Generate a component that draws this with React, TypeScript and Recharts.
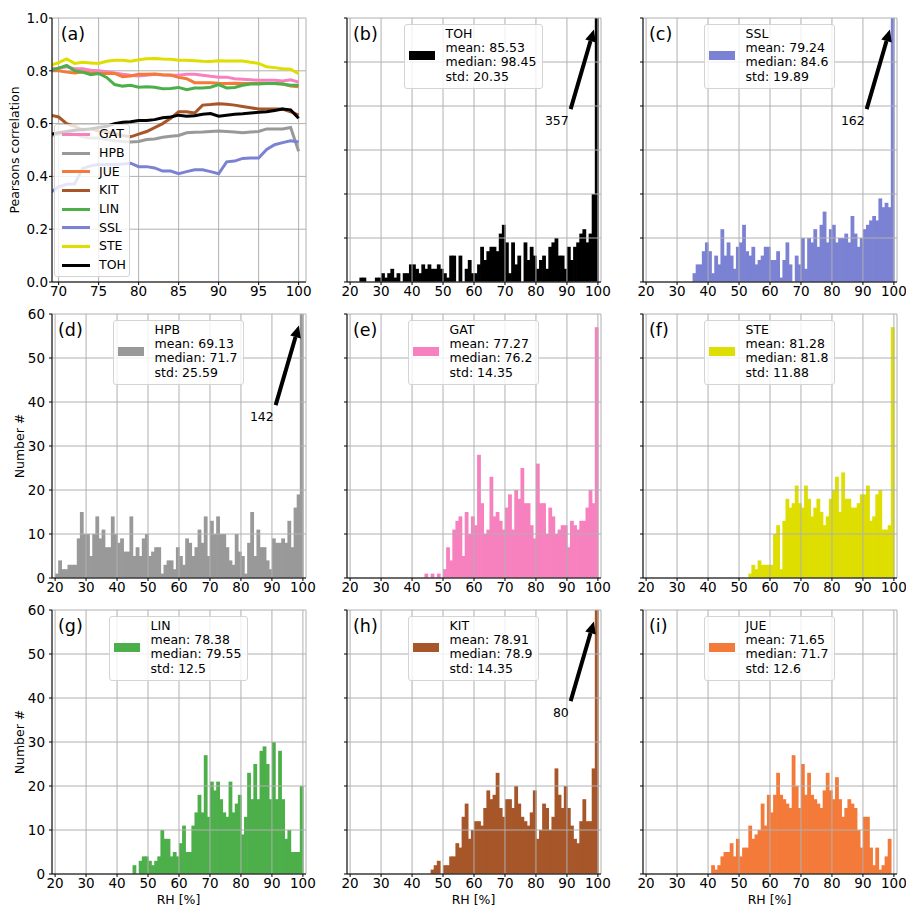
import React from "react";
import {
  BarChart,
  Bar,
  LineChart,
  Line,
  XAxis,
  YAxis,
  CartesianGrid,
  ReferenceLine,
  ReferenceDot,
} from "recharts";

const FONT = "'DejaVu Sans', sans-serif";

// ---- panel (a): correlation vs RH threshold ----
const RH_THRESHOLDS = [
  69, 70, 71, 72, 73, 74, 75, 76, 77, 78, 79, 80, 81, 82, 83, 84, 85, 86, 87,
  88, 89, 90, 91, 92, 93, 94, 95, 96, 97, 98, 99, 100,
];
const CORR_GAT = [0.808, 0.81, 0.815, 0.808, 0.808, 0.802, 0.8, 0.796, 0.792, 0.787, 0.783, 0.78, 0.783, 0.787, 0.784, 0.783, 0.783, 0.787, 0.787, 0.783, 0.779, 0.776, 0.776, 0.77, 0.768, 0.766, 0.764, 0.764, 0.764, 0.761, 0.766, 0.757];
const CORR_HPB = [0.555, 0.56, 0.565, 0.56, 0.55, 0.545, 0.545, 0.54, 0.535, 0.532, 0.53, 0.532, 0.54, 0.542, 0.548, 0.552, 0.555, 0.565, 0.567, 0.568, 0.57, 0.572, 0.57, 0.568, 0.565, 0.568, 0.57, 0.58, 0.58, 0.58, 0.585, 0.495];
const CORR_JUE = [0.8, 0.8, 0.795, 0.792, 0.795, 0.792, 0.79, 0.79, 0.79, 0.778, 0.78, 0.787, 0.787, 0.788, 0.785, 0.784, 0.775, 0.77, 0.755, 0.755, 0.755, 0.753, 0.752, 0.753, 0.752, 0.752, 0.752, 0.752, 0.752, 0.75, 0.742, 0.74];
const CORR_KIT = [0.632, 0.625, 0.6, 0.59, 0.575, 0.58, 0.572, 0.568, 0.562, 0.555, 0.55, 0.56, 0.57, 0.585, 0.6, 0.62, 0.645, 0.645, 0.64, 0.67, 0.672, 0.675, 0.673, 0.67, 0.665, 0.66, 0.655, 0.655, 0.655, 0.655, 0.645, 0.632];
const CORR_LIN = [0.8, 0.81, 0.82, 0.8, 0.795, 0.785, 0.79, 0.775, 0.748, 0.742, 0.745, 0.738, 0.74, 0.738, 0.732, 0.733, 0.737, 0.728, 0.735, 0.735, 0.738, 0.748, 0.735, 0.737, 0.745, 0.75, 0.75, 0.752, 0.752, 0.75, 0.745, 0.745];
const CORR_SSL = [0.34, 0.36, 0.37, 0.372, 0.43, 0.44, 0.445, 0.445, 0.445, 0.447, 0.45, 0.437, 0.437, 0.432, 0.42, 0.42, 0.41, 0.418, 0.425, 0.425, 0.418, 0.41, 0.455, 0.458, 0.468, 0.47, 0.47, 0.502, 0.52, 0.528, 0.535, 0.53];
const CORR_STE = [0.821, 0.831, 0.845, 0.828, 0.832, 0.83, 0.828, 0.836, 0.84, 0.84, 0.836, 0.842, 0.846, 0.847, 0.845, 0.844, 0.84, 0.84, 0.838, 0.836, 0.835, 0.838, 0.837, 0.837, 0.837, 0.832, 0.828, 0.815, 0.812, 0.808, 0.806, 0.789];
const CORR_TOH = [0.56, 0.565, 0.57, 0.575, 0.578, 0.58, 0.585, 0.59, 0.6, 0.605, 0.607, 0.612, 0.612, 0.615, 0.622, 0.625, 0.632, 0.628, 0.63, 0.635, 0.638, 0.628, 0.632, 0.635, 0.637, 0.64, 0.643, 0.645, 0.65, 0.655, 0.652, 0.62];

const STATIONS = ["GAT", "HPB", "JUE", "KIT", "LIN", "SSL", "STE", "TOH"];
const CORR_BY_STATION: Record<string, number[]> = {
  GAT: CORR_GAT,
  HPB: CORR_HPB,
  JUE: CORR_JUE,
  KIT: CORR_KIT,
  LIN: CORR_LIN,
  SSL: CORR_SSL,
  STE: CORR_STE,
  TOH: CORR_TOH,
};
const COLORS: Record<string, string> = {
  GAT: "#f781bf",
  HPB: "#999999",
  JUE: "#f47a3a",
  KIT: "#a65628",
  LIN: "#4daf4a",
  SSL: "#7b82d4",
  STE: "#dede00",
  TOH: "#000000",
};

const CORR_TICKS_X = [70, 75, 80, 85, 90, 95, 100];
const CORR_TICKS_Y = [0, 0.2, 0.4, 0.6, 0.8, 1.0];

// ---- histograms: counts per 1 % RH bin, bins 20..99 ----
const BIN_START = 20;
const COUNTS_TOH = [
  0, 0, 0, 1, 1, 0, 0, 0, 1, 1,
  2, 1, 2, 3, 1, 2, 0, 2, 2, 4,
  4, 3, 2, 4, 3, 4, 3, 3, 4, 3,
  2, 1, 6, 6, 0, 6, 0, 3, 5, 2,
  2, 4, 8, 5, 7, 8, 8, 7, 11, 13,
  9, 2, 9, 4, 6, 0, 9, 5, 8, 6,
  3, 5, 6, 3, 8, 9, 10, 6, 6, 3,
  8, 5, 8, 9, 11, 12, 9, 11, 20, 357,
];
const COUNTS_SSL = [
  0, 0, 0, 0, 0, 0, 0, 0, 0, 0,
  0, 0, 0, 0, 0, 2, 4, 4, 7, 9,
  7, 2, 6, 4, 12, 6, 9, 6, 3, 8,
  9, 13, 7, 6, 8, 4, 5, 6, 8, 8,
  5, 5, 7, 1, 5, 9, 4, 0, 6, 4,
  10, 3, 10, 9, 12, 8, 13, 16, 9, 12,
  13, 9, 10, 10, 11, 9, 15, 11, 8, 10,
  12, 13, 14, 15, 14, 19, 17, 18, 17, 162,
];
const COUNTS_HPB = [
  1, 4, 2, 2, 3, 3, 3, 9, 15, 10,
  10, 5, 10, 14, 9, 11, 7, 7, 14, 10,
  8, 9, 6, 6, 14, 5, 7, 5, 9, 10,
  5, 6, 7, 7, 1, 3, 4, 4, 2, 7,
  5, 3, 9, 8, 5, 7, 11, 8, 14, 5,
  13, 10, 14, 10, 10, 7, 4, 3, 10, 6,
  5, 1, 8, 15, 5, 11, 7, 7, 4, 2,
  9, 8, 8, 9, 8, 13, 7, 16, 19, 142,
];
const COUNTS_GAT = [
  0, 0, 0, 0, 0, 0, 0, 0, 0, 0,
  0, 0, 0, 0, 0, 0, 0, 0, 0, 0,
  0, 0, 0, 0, 1, 0, 1, 0, 1, 0,
  2, 7, 4, 11, 13, 14, 5, 15, 10, 14,
  12, 28, 17, 10, 11, 23, 14, 15, 13, 11,
  16, 19, 11, 20, 18, 25, 17, 17, 12, 9,
  26, 17, 17, 10, 16, 14, 10, 11, 12, 12,
  7, 13, 12, 11, 13, 13, 16, 20, 17, 57,
];
const COUNTS_STE = [
  0, 0, 0, 0, 0, 0, 0, 0, 0, 0,
  0, 0, 0, 0, 0, 0, 0, 0, 0, 0,
  0, 0, 0, 0, 0, 0, 0, 0, 0, 0,
  0, 0, 0, 1, 3, 2, 4, 3, 3, 3,
  3, 10, 12, 2, 13, 18, 16, 17, 21, 17,
  16, 21, 18, 14, 16, 18, 15, 12, 14, 18,
  20, 23, 15, 24, 18, 18, 16, 16, 17, 19,
  19, 21, 13, 14, 19, 20, 11, 11, 12, 57,
];
const COUNTS_LIN = [
  0, 0, 0, 0, 0, 0, 0, 0, 0, 0,
  0, 0, 0, 0, 0, 0, 0, 0, 0, 0,
  0, 0, 0, 0, 0, 2, 0, 3, 4, 4,
  3, 2, 3, 4, 10, 8, 8, 4, 5, 4,
  7, 11, 5, 5, 11, 14, 18, 14, 27, 13,
  21, 19, 21, 17, 14, 13, 21, 14, 16, 18,
  9, 13, 23, 17, 25, 17, 28, 29, 25, 17,
  30, 17, 28, 17, 8, 10, 5, 5, 5, 20,
];
const COUNTS_KIT = [
  0, 0, 0, 0, 0, 0, 0, 0, 0, 0,
  0, 0, 0, 0, 0, 0, 0, 0, 0, 0,
  0, 0, 0, 0, 0, 0, 1, 2, 3, 0,
  2, 2, 4, 4, 7, 6, 13, 16, 8, 10,
  12, 12, 11, 15, 19, 17, 18, 23, 15, 13,
  17, 17, 15, 20, 16, 13, 12, 11, 14, 19,
  8, 10, 16, 15, 10, 13, 24, 18, 15, 20,
  15, 11, 8, 7, 12, 17, 12, 12, 24, 80,
];
const COUNTS_JUE = [
  0, 0, 0, 0, 0, 0, 0, 0, 0, 0,
  0, 0, 0, 0, 0, 0, 0, 0, 0, 0,
  0, 2, 1, 2, 4, 5, 5, 7, 4, 8,
  4, 6, 6, 11, 8, 9, 10, 16, 11, 18,
  14, 18, 23, 18, 17, 16, 15, 27, 20, 15,
  25, 18, 23, 18, 17, 16, 15, 19, 23, 19,
  17, 22, 17, 13, 15, 17, 16, 15, 10, 6,
  13, 13, 6, 2, 6, 1, 2, 4, 8, 0,
];

const HIST_TICKS_X = [20, 30, 40, 50, 60, 70, 80, 90, 100];
const HIST_TICKS_Y = [0, 10, 20, 30, 40, 50, 60];

const HISTS = [
  { letter: "(b)", station: "TOH", counts: COUNTS_TOH, mean: "85.53", median: "98.45", std: "20.35", peak: "357", row: 0, col: 1 },
  { letter: "(c)", station: "SSL", counts: COUNTS_SSL, mean: "79.24", median: "84.6", std: "19.89", peak: "162", row: 0, col: 2 },
  { letter: "(d)", station: "HPB", counts: COUNTS_HPB, mean: "69.13", median: "71.7", std: "25.59", peak: "142", row: 1, col: 0 },
  { letter: "(e)", station: "GAT", counts: COUNTS_GAT, mean: "77.27", median: "76.2", std: "14.35", peak: "", row: 1, col: 1 },
  { letter: "(f)", station: "STE", counts: COUNTS_STE, mean: "81.28", median: "81.8", std: "11.88", peak: "", row: 1, col: 2 },
  { letter: "(g)", station: "LIN", counts: COUNTS_LIN, mean: "78.38", median: "79.55", std: "12.5", peak: "", row: 2, col: 0 },
  { letter: "(h)", station: "KIT", counts: COUNTS_KIT, mean: "78.91", median: "78.9", std: "14.35", peak: "80", row: 2, col: 1 },
  { letter: "(i)", station: "JUE", counts: COUNTS_JUE, mean: "71.65", median: "71.7", std: "12.6", peak: "", row: 2, col: 2 },
];

// layout
const COL_LEFT = [51.5, 346.5, 642.5];
const ROW_TOP = [17.5, 313.5, 609.5];
const PLOT_W = 254;
const PLOT_H = 264;
const Y_AXIS_W = 50;
const X_AXIS_H = 30;
const M_TOP = 10;
const M_RIGHT = 10;
const CHART_W = Y_AXIS_W + PLOT_W + M_RIGHT;
const CHART_H = M_TOP + PLOT_H + X_AXIS_H;

const tickStyle = { fill: "#000", fontSize: 13.5, fontFamily: FONT };
const axisLine = { stroke: "#000", strokeWidth: 1 };

// bins touch each other: widen each rect a little so no seams show
function BinRect(props: any) {
  const { x, y, width, height, fill } = props;
  if (!height || height <= 0 || !width) return null;
  return <rect x={x} y={y} width={width + 0.8} height={height} fill={fill} />;
}

function ArrowShape(props: any) {
  const { x1, y1, x2, y2 } = props;
  const dx = x2 - x1;
  const dy = y2 - y1;
  const len = Math.hypot(dx, dy) || 1;
  const ux = dx / len;
  const uy = dy / len;
  const head = 12;
  const half = 5.5;
  const bx = x2 - ux * head;
  const by = y2 - uy * head;
  return (
    <g>
      <line x1={x1} y1={y1} x2={bx} y2={by} stroke="#000" strokeWidth={4} />
      <polygon
        points={`${x2},${y2} ${bx - uy * half},${by + ux * half} ${bx + uy * half},${by - ux * half}`}
        fill="#000"
      />
    </g>
  );
}

function PanelLetter({ text, left, top }: { text: string; left: number; top: number }) {
  return (
    <div
      style={{
        position: "absolute",
        left,
        top,
        fontSize: 17.5,
        lineHeight: "17.5px",
        fontFamily: FONT,
        color: "#000",
        whiteSpace: "nowrap",
      }}
    >
      {text}
    </div>
  );
}

function RotatedLabel({ text, cx, cy }: { text: string; cx: number; cy: number }) {
  return (
    <div
      style={{
        position: "absolute",
        left: cx,
        top: cy,
        transform: "translate(-50%, -50%) rotate(-90deg)",
        fontSize: 12.5,
        lineHeight: "14px",
        fontFamily: FONT,
        whiteSpace: "nowrap",
        color: "#000",
      }}
    >
      {text}
    </div>
  );
}

function CorrelationPanel() {
  const data = RH_THRESHOLDS.map((x, i) => {
    const row: Record<string, number> = { x };
    STATIONS.forEach((s) => (row[s] = CORR_BY_STATION[s][i]));
    return row;
  });
  const left = COL_LEFT[0];
  const top = ROW_TOP[0];
  return (
    <>
      <div style={{ position: "absolute", left: left - Y_AXIS_W, top: top - M_TOP }}>
        <LineChart
          width={CHART_W}
          height={CHART_H}
          data={data}
          margin={{ top: M_TOP, right: M_RIGHT, bottom: 0, left: 0 }}
        >
          <CartesianGrid stroke="#b0b0b0" strokeWidth={1} />
          <XAxis
            dataKey="x"
            type="number"
            domain={[69.17, 100.92]}
            allowDataOverflow
            ticks={CORR_TICKS_X}
            interval={0}
            height={X_AXIS_H}
            tick={tickStyle}
            tickSize={3}
            tickMargin={1}
            axisLine={axisLine}
            tickLine={axisLine}
          />
          <XAxis xAxisId="top" orientation="top" type="number" domain={[0, 1]} height={0} tick={false} tickLine={false} axisLine={axisLine} />
          <YAxis
            type="number"
            domain={[0, 1]}
            allowDataOverflow
            ticks={CORR_TICKS_Y}
            interval={0}
            width={Y_AXIS_W}
            tick={tickStyle}
            tickFormatter={(v: number) => v.toFixed(1)}
            tickSize={3}
            tickMargin={1}
            axisLine={axisLine}
            tickLine={axisLine}
          />
          <YAxis yAxisId="right" orientation="right" type="number" domain={[0, 1]} width={0} tick={false} tickLine={false} axisLine={axisLine} />
          {STATIONS.map((s) => (
            <Line
              key={s}
              dataKey={s}
              type="linear"
              stroke={COLORS[s]}
              strokeWidth={3}
              dot={false}
              isAnimationActive={false}
            />
          ))}
        </LineChart>
      </div>
      {/* legend, lower left */}
      <div
        style={{
          position: "absolute",
          left: 54,
          top: 124,
          width: 76,
          height: 153,
          boxSizing: "border-box",
          border: "1px solid #d4d4d4",
          borderRadius: 3,
          background: "rgba(255,255,255,0.8)",
          fontFamily: FONT,
          fontSize: 12.5,
        }}
      >
        {STATIONS.map((s) => (
          <div key={s} style={{ height: 18.7, display: "flex", alignItems: "center" }}>
            <div style={{ marginLeft: 7, width: 28, height: 3, background: COLORS[s] }} />
            <div style={{ marginLeft: 9, lineHeight: "14px" }}>{s}</div>
          </div>
        ))}
      </div>
      <PanelLetter text="(a)" left={left + 9.3} top={top + 8} />
      <RotatedLabel text="Pearsons correlation" cx={15} cy={top + PLOT_H / 2} />
    </>
  );
}

function HistPanel({ spec }: { spec: (typeof HISTS)[number] }) {
  const color = COLORS[spec.station];
  const data = spec.counts.map((n, i) => ({ x: BIN_START + i + 0.5, n }));
  const left = COL_LEFT[spec.col];
  const top = ROW_TOP[spec.row];
  const showY = spec.col === 0;
  return (
    <>
      <div style={{ position: "absolute", left: left - Y_AXIS_W, top: top - M_TOP }}>
        <BarChart
          width={CHART_W}
          height={CHART_H}
          data={data}
          barCategoryGap={0}
          barGap={0}
          margin={{ top: M_TOP, right: M_RIGHT, bottom: 0, left: 0 }}
        >
          <XAxis
            dataKey="x"
            type="number"
            domain={[19, 101]}
            allowDataOverflow
            ticks={HIST_TICKS_X}
            interval={0}
            height={X_AXIS_H}
            tick={tickStyle}
            tickSize={3}
            tickMargin={1}
            axisLine={axisLine}
            tickLine={axisLine}
          />
          <XAxis xAxisId="top" orientation="top" type="number" domain={[0, 1]} height={0} tick={false} tickLine={false} axisLine={axisLine} />
          <YAxis
            type="number"
            domain={[0, 60]}
            allowDataOverflow
            ticks={HIST_TICKS_Y}
            interval={0}
            width={Y_AXIS_W}
            tick={tickStyle}
            tickFormatter={(v: number) => (showY ? String(v) : "")}
            tickSize={3}
            tickMargin={4}
            axisLine={axisLine}
            tickLine={axisLine}
          />
          <YAxis yAxisId="right" orientation="right" type="number" domain={[0, 1]} width={0} tick={false} tickLine={false} axisLine={axisLine} />
          <Bar
            dataKey="n"
            fill={color}
            shape={BinRect}
            isAnimationActive={false}
          />
          <CartesianGrid stroke="#b0b0b0" strokeWidth={1} zIndex={350} />
          {spec.peak && (
            <ReferenceLine
              segment={[
                { x: 91.2, y: 39.3 },
                { x: 98.7, y: 57.4 },
              ]}
              shape={ArrowShape}
            />
          )}
          {spec.peak && (
            <ReferenceDot
              x={90.6}
              y={36.6}
              r={0}
              fill="none"
              stroke="none"
              label={{
                value: spec.peak,
                position: "left",
                offset: 0,
                fill: "#000",
                fontSize: 12.5,
                fontFamily: FONT,
              }}
            />
          )}
        </BarChart>
      </div>
      {/* stats box, upper centre */}
      <div
        style={{
          position: "absolute",
          left,
          top: top + 6.5,
          width: PLOT_W,
          display: "flex",
          justifyContent: "center",
          pointerEvents: "none",
        }}
      >
        <div
          style={{
            display: "flex",
            alignItems: "center",
            boxSizing: "border-box",
            padding: "2px 6px 4px 4px",
            border: "1px solid #d4d4d4",
            borderRadius: 3,
            background: "rgba(255,255,255,0.8)",
            fontFamily: FONT,
            fontSize: 12.5,
            lineHeight: "14.2px",
            color: "#000",
          }}
        >
          <div style={{ width: 26, height: 9, background: color, marginRight: 11, flex: "none" }} />
          <div style={{ whiteSpace: "nowrap" }}>
            <div>{spec.station}</div>
            <div>mean: {spec.mean}</div>
            <div>median: {spec.median}</div>
            <div>std: {spec.std}</div>
          </div>
        </div>
      </div>
      <PanelLetter text={spec.letter} left={left + 6.5} top={top + 8} />
      {spec.col === 0 && <RotatedLabel text="Number #" cx={20} cy={top + PLOT_H / 2} />}
      {spec.row === 2 && (
        <div
          style={{
            position: "absolute",
            left: left + PLOT_W / 2,
            top: 900,
            transform: "translate(-50%, -50%)",
            fontFamily: FONT,
            fontSize: 12.5,
            lineHeight: "14px",
            whiteSpace: "nowrap",
          }}
        >
          RH [%]
        </div>
      )}
    </>
  );
}

export default function App() {
  return (
    <div
      style={{
        position: "absolute",
        left: 0,
        top: 0,
        width: 906,
        height: 907,
        background: "#fff",
        fontFamily: FONT,
        overflow: "hidden",
      }}
    >
      <CorrelationPanel />
      {HISTS.map((h) => (
        <HistPanel key={h.letter} spec={h} />
      ))}
    </div>
  );
}
